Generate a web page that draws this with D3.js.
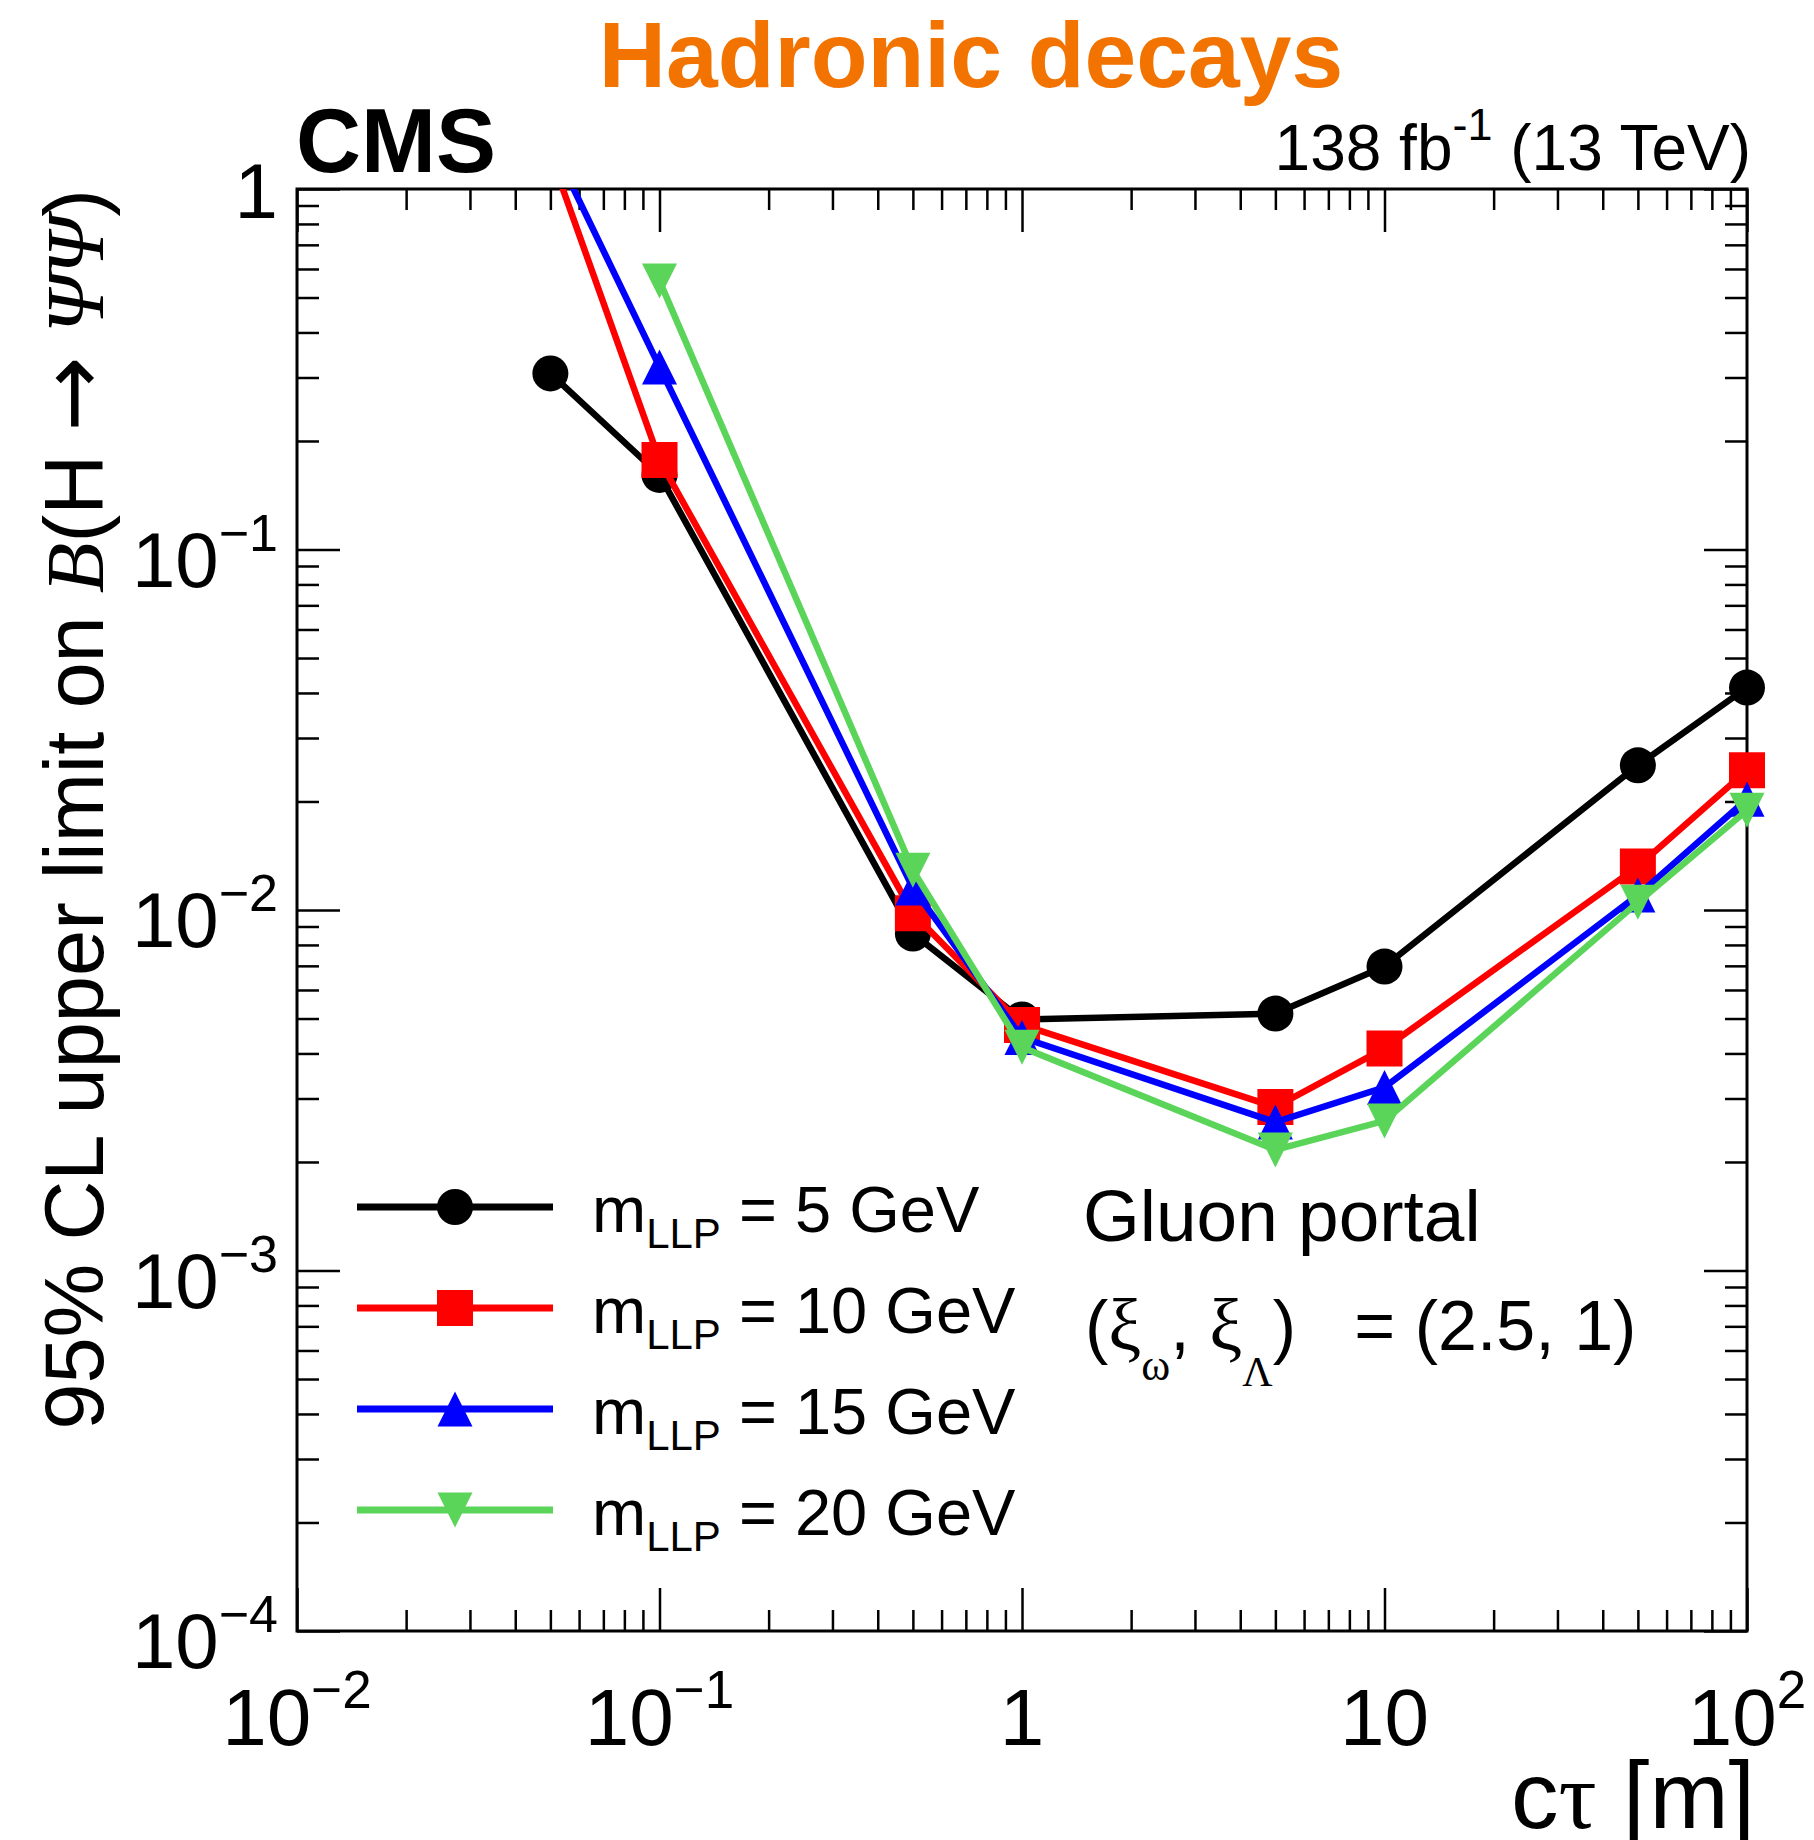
<!DOCTYPE html>
<html><head><meta charset="utf-8">
<script src="https://cdn.jsdelivr.net/npm/d3@7"></script>
<style>body{margin:0;background:#fff} svg{display:block} text{white-space:pre}</style>
</head><body>
<script>
// ---------- data ----------
const ctau = [0.05, 0.1, 0.5, 1, 5, 10, 50, 100];
const lim5  = [0.308, 0.161, 0.0086, 0.00497, 0.00516, 0.00697, 0.0252, 0.0414];
const lim10 = [1.25, 0.177, 0.0098, 0.0048, 0.00284, 0.00413, 0.0132, 0.0244];
const lim15 = [1.36, 0.321, 0.0115, 0.00443, 0.00258, 0.00322, 0.0110, 0.0203];
const lim20 = [null, 0.556, 0.0129, 0.00416, 0.00216, 0.0026, 0.0105, 0.0189];
const seriesNames = ["5", "10", "15", "20"];
const seriesColors = ["#000000", "#ff0000", "#0000ff", "#5ad55a"];
const seriesMarkers = ["circle", "square", "triUp", "triDown"];
const xMajor = [0.01, 0.1, 1, 10, 100];
const xLabels = [["10","−2"],["10","−1"],["1",""],["10",""],["10","2"]];
const yMajor = [1e-4, 1e-3, 1e-2, 1e-1, 1];
const yLabels = [["10","−4"],["10","−3"],["10","−2"],["10","−1"],["1",""]];

// ---------- layout ----------
const W = 1814, H = 1840;
const L = 297, R = 1747, T = 189, B = 1631;
const SANS = "'Liberation Sans', Arial, Helvetica, sans-serif";
const SERIF = "'Liberation Serif', 'DejaVu Serif', serif";

const x = d3.scaleLog().domain([1e-2, 1e2]).range([L, R]);
const y = d3.scaleLog().domain([1e-4, 1]).range([B, T]);

const svg = d3.select("body").append("svg").attr("width", W).attr("height", H)
  .style("font-family", SANS);

function minors(lo, hi) {
  const out = [];
  for (let e = lo; e < hi; e++) for (let k = 2; k <= 9; k++) out.push(k * Math.pow(10, e));
  return out;
}
const xMinor = minors(-2, 2);
const yMinor = minors(-4, 0);

function drawAxis(axisGen, transform) {
  const g = svg.append("g").attr("transform", transform).call(axisGen);
  g.select(".domain").remove();
  g.selectAll("text").remove();
  g.selectAll("line").attr("stroke", "#000").attr("stroke-width", 2.5);
}
const MAJ = 43, MIN = 21;
[[xMajor, MAJ], [xMinor, MIN]].forEach(([vals, len]) => {
  drawAxis(d3.axisBottom(x).tickValues(vals).tickSizeInner(-len).tickSizeOuter(0), `translate(0,${B})`);
  drawAxis(d3.axisTop(x).tickValues(vals).tickSizeInner(-len).tickSizeOuter(0), `translate(0,${T})`);
});
[[yMajor, MAJ], [yMinor, MIN + 1]].forEach(([vals, len]) => {
  drawAxis(d3.axisLeft(y).tickValues(vals).tickSizeInner(-len).tickSizeOuter(0), `translate(${L},0)`);
  drawAxis(d3.axisRight(y).tickValues(vals).tickSizeInner(-len).tickSizeOuter(0), `translate(${R},0)`);
});

svg.append("rect").attr("x", L).attr("y", T).attr("width", R - L).attr("height", B - T)
  .attr("fill", "none").attr("stroke", "#000").attr("stroke-width", 3);

// tick labels
xMajor.forEach((v, i) => {
  const t = svg.append("text").attr("x", x(v)).attr("y", B + 114)
    .attr("text-anchor", "middle").attr("font-size", 80);
  t.append("tspan").text(xLabels[i][0]);
  if (xLabels[i][1]) t.append("tspan").attr("font-size", 53).attr("dy", -37).text(xLabels[i][1]);
});
yMajor.forEach((v, i) => {
  const sup = !!yLabels[i][1];
  const t = svg.append("text").attr("x", 278).attr("y", y(v) + (sup ? 37 : 29))
    .attr("text-anchor", "end").attr("font-size", 78);
  t.append("tspan").text(yLabels[i][0]);
  if (sup) t.append("tspan").attr("font-size", 52).attr("dy", -36).text(yLabels[i][1]);
});

// axis titles
const xt = svg.append("text").attr("x", 1755).attr("y", 1828).attr("text-anchor", "end").attr("font-size", 95);
xt.append("tspan").text("c");
xt.append("tspan").attr("font-family", SERIF).text("τ");
xt.append("tspan").text(" [m]");

const yt = svg.append("text").attr("transform", `translate(103,${T}) rotate(-90)`)
  .attr("text-anchor", "end").attr("font-size", 83);
yt.append("tspan").text("95% CL upper limit on ");
yt.append("tspan").attr("font-family", SERIF).attr("font-style", "italic").text("B");
yt.append("tspan").text("(H ");
yt.append("tspan").attr("font-family", "'DejaVu Sans', sans-serif").attr("font-size", 90).text("→");
yt.append("tspan").text(" ");
yt.append("tspan").attr("font-family", SERIF).attr("font-style", "italic").text("ΨΨ");
yt.append("tspan").text(")");

// header texts
svg.append("text").attr("x", 971).attr("y", 87).attr("text-anchor", "middle")
  .attr("font-size", 93).attr("font-weight", "bold").attr("fill", "#f27300").text("Hadronic decays");
svg.append("text").attr("x", 296).attr("y", 172).attr("font-size", 90).attr("font-weight", "bold").text("CMS");
const lumi = svg.append("text").attr("x", 1751).attr("y", 170).attr("text-anchor", "end").attr("font-size", 64);
lumi.append("tspan").text("138 fb");
lumi.append("tspan").attr("font-size", 45).attr("dy", -30).text("-1");
lumi.append("tspan").attr("dy", 30).text(" (13 TeV)");

// ---------- data series ----------
svg.append("clipPath").attr("id", "clip").append("rect")
  .attr("x", L).attr("y", T).attr("width", R - L).attr("height", B - T);
const plot = svg.append("g");

function markerPath(type, cx, cy) {
  const p = d3.path();
  if (type === "circle") { p.moveTo(cx + 18, cy); p.arc(cx, cy, 18, 0, 2 * Math.PI); }
  else if (type === "square") { p.rect(cx - 18, cy - 18, 36, 36); }
  else if (type === "triUp") { p.moveTo(cx, cy - 17.5); p.lineTo(cx + 17.5, cy + 17.5); p.lineTo(cx - 17.5, cy + 17.5); p.closePath(); }
  else { p.moveTo(cx - 17.5, cy - 17.5); p.lineTo(cx + 17.5, cy - 17.5); p.lineTo(cx, cy + 17.5); p.closePath(); }
  return p.toString();
}

const allSeries = [lim5, lim10, lim15, lim20];
const [yLo, yHi] = y.domain();
allSeries.forEach((vals, si) => {
  const pts = ctau.map((c, i) => ({ c, v: vals[i] })).filter(d => d.v != null);
  const line = d3.line().x(d => x(d.c)).y(d => y(d.v));
  plot.append("path").attr("d", line(pts)).attr("fill", "none").attr("clip-path", "url(#clip)")
    .attr("stroke", seriesColors[si]).attr("stroke-width", 6.5).attr("stroke-linejoin", "miter");
  plot.selectAll(null).data(pts.filter(d => d.v >= yLo && d.v <= yHi)).enter().append("path")
    .attr("d", d => markerPath(seriesMarkers[si], x(d.c), y(d.v)))
    .attr("fill", seriesColors[si]);
});

// ---------- legend ----------
const legY0 = 1207, legDY = 101;
seriesNames.forEach((n, i) => {
  const cy = legY0 + i * legDY;
  svg.append("line").attr("x1", 357).attr("x2", 553).attr("y1", cy).attr("y2", cy)
    .attr("stroke", seriesColors[i]).attr("stroke-width", 7);
  svg.append("path").attr("d", markerPath(seriesMarkers[i], 455, cy)).attr("fill", seriesColors[i]);
  const t = svg.append("text").attr("x", 592).attr("y", cy + 25).attr("font-size", 65);
  t.append("tspan").text("m");
  t.append("tspan").attr("font-size", 42).attr("dy", 16).text("LLP");
  t.append("tspan").attr("dy", -16).text(` = ${n} GeV`);
});

// model text
svg.append("text").attr("x", 1083).attr("y", 1241).attr("font-size", 73).text("Gluon portal");
const mt = svg.append("text").attr("x", 1085).attr("y", 1350).attr("font-size", 70);
mt.append("tspan").text("(");
mt.append("tspan").attr("font-family", SERIF).attr("font-size", 74).text("ξ");
mt.append("tspan").attr("font-family", SERIF).attr("font-size", 44).attr("dy", 30).text("ω");
mt.append("tspan").attr("dy", -30).text(", ");
mt.append("tspan").attr("font-family", SERIF).attr("font-size", 74).text("ξ");
mt.append("tspan").attr("font-family", SERIF).attr("font-size", 42).attr("dy", 36).text("Λ");
mt.append("tspan").attr("dy", -36).text(")\u00a0\u00a0\u00a0= (2.5, 1)");
</script>
</body></html>
